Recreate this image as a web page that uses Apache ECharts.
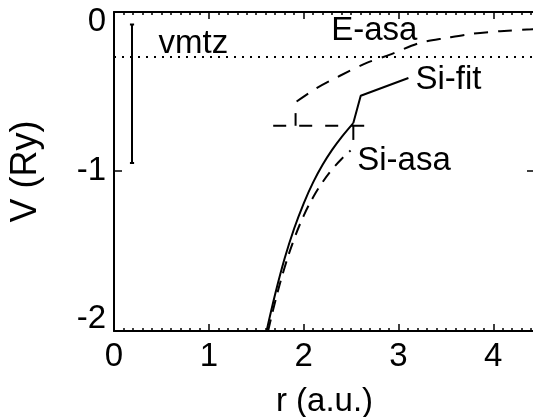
<!DOCTYPE html>
<html>
<head>
<meta charset="utf-8">
<script src="https://cdn.jsdelivr.net/npm/echarts@6/dist/echarts.min.js"></script>
<style>
  html, body { margin: 0; padding: 0; background: #fff; }
  #chart { width: 533px; height: 417px; }
</style>
</head>
<body>
<div id="chart"></div>
<script>
// axis ticks
var xTicks = [0, 1, 2, 3, 4];
var yTicks = [0, -1, -2];
var yTickMarks = [-1];

// Si-fit (solid)
var siFitR = [1.609, 1.70, 1.80, 1.90, 2.00, 2.10, 2.20, 2.30, 2.40, 2.524];
var siFitV = [-2.079, -1.830, -1.590, -1.390, -1.222, -1.080, -0.962, -0.862, -0.776, -0.682];
var siFitTailR = [2.524, 2.602, 3.105];
var siFitTailV = [-0.682, -0.498, -0.379];

// Si-asa (dashed)
var siAsaR = [1.625, 1.70, 1.80, 1.90, 2.00, 2.10, 2.20, 2.30, 2.40, 2.495];
var siAsaV = [-2.079, -1.880, -1.650, -1.460, -1.305, -1.180, -1.078, -0.993, -0.923, -0.866];

// E-asa (dashed)
var eAsaR = [1.926, 2.137, 2.383, 2.665, 2.911, 3.228, 3.51, 3.791, 4.073, 4.355, 4.44];
var eAsaV = [-0.537, -0.447, -0.364, -0.278, -0.222, -0.143, -0.110, -0.081, -0.065, -0.054, -0.052];

// horizontal dashed level with sphere radius marks
var levelR = [1.679, 2.672];
var levelV = -0.700;
var markE = [1.915, -0.700, -0.615];
var markSi = [2.524, -0.700, -0.795];

// vmtz
var vmtzV = -0.238;
var barR = 0.19, barTop = -0.02, barBottom = -0.95, capHalf = 0.022;

// annotations
var noteText = ['vmtz', 'E-asa', 'Si-fit', 'Si-asa'];
var noteR = [0.47, 2.29, 3.18, 2.565];
var noteV = [-0.150, -0.063, -0.392, -0.935];

function pairs(xs, ys) {
    var out = [];
    for (var i = 0; i < xs.length; i++) out.push([xs[i], ys[i]]);
    return out;
}

function seg(data, type, width) {
    return {
        type: 'line', data: data, symbol: 'none', silent: true,
        lineStyle: { color: '#000', width: width || 2, type: type || 'solid' },
        animation: false
    };
}

var series = [];
var s1 = seg(pairs(siFitR, siFitV), 'solid', 2);
s1.smooth = 0.4;
series.push(s1);
series.push(seg(pairs(siFitTailR, siFitTailV), 'solid', 2));
var s2 = seg(pairs(siAsaR, siAsaV), [12, 8], 2);
s2.smooth = 0.4;
series.push(s2);
var s3 = seg(pairs(eAsaR, eAsaV), [14, 10], 2);
s3.smooth = 0.3;
series.push(s3);
series.push(seg([[levelR[0], levelV], [levelR[1], levelV]], [13, 13], 2));
series.push(seg([[markE[0], markE[1]], [markE[0], markE[2]]], 'solid', 2));
series.push(seg([[markSi[0], markSi[1]], [markSi[0], markSi[2]]], 'solid', 2));
series.push(seg([[0, vmtzV], [4.44, vmtzV]], [2, 6], 2));
series.push(seg([[barR, barTop], [barR, barBottom]], 'solid', 2));
series.push(seg([[barR - capHalf, barTop], [barR + capHalf, barTop]], 'solid', 2));
series.push(seg([[barR - capHalf, barBottom], [barR + capHalf, barBottom]], 'solid', 2));

var tickCommon = { show: true, inside: true, length: 7, lineStyle: { color: '#000', width: 1.5 } };
var minorCommon = { show: true, splitNumber: 10, length: 3, lineStyle: { color: '#000', width: 1.5 } };
var lineCommon = { show: true, onZero: false, lineStyle: { color: '#000', width: 2 } };
var labelFont = { color: '#000', fontSize: 33, fontFamily: 'Liberation Sans' };

var myChart = echarts.init(document.getElementById('chart'), null, { renderer: 'canvas' });
var option = {
    backgroundColor: '#fff',
    animation: false,
    grid: { left: 114, right: -2, top: 12, bottom: 86, containLabel: false, outerBoundsMode: 'none' },
    xAxis: [{
        type: 'value', position: 'bottom', min: 0, max: 4.44, interval: 1,
        axisLine: lineCommon, axisTick: tickCommon, minorTick: minorCommon,
        splitLine: { show: false },
        axisLabel: Object.assign({ margin: 9, customValues: xTicks }, labelFont),
        name: 'r (a.u.)', nameLocation: 'middle', nameGap: 54,
        nameTextStyle: { color: '#000', fontSize: 33, fontFamily: 'Liberation Sans' }
    }, {
        type: 'value', position: 'top', min: 0, max: 4.44, interval: 1,
        axisLine: lineCommon, axisTick: tickCommon, minorTick: minorCommon,
        splitLine: { show: false }, axisLabel: { show: false }
    }],
    yAxis: [{
        type: 'value', position: 'left', min: -2.078, max: 0.064,
        axisLine: lineCommon,
        axisTick: Object.assign({ customValues: yTickMarks }, tickCommon, { length: 8 }),
        splitLine: { show: false },
        axisLabel: Object.assign({ margin: 8, customValues: yTicks }, labelFont),
        name: 'V (Ry)', nameLocation: 'middle', nameGap: 70,
        nameTextStyle: { color: '#000', fontSize: 36, fontFamily: 'Liberation Sans' }
    }, {
        type: 'value', position: 'right', min: -2.078, max: 0.064,
        axisLine: lineCommon,
        axisTick: Object.assign({ customValues: yTickMarks }, tickCommon, { length: 8 }),
        splitLine: { show: false }, axisLabel: { show: false }
    }],
    series: series
};
myChart.setOption(option);

// annotation texts placed through the chart's own scales
var texts = [];
for (var i = 0; i < noteText.length; i++) {
    var p = myChart.convertToPixel({ gridIndex: 0 }, [noteR[i], noteV[i]]);
    texts.push({
        type: 'text', x: p[0], y: p[1], silent: true,
        style: {
            text: noteText[i], fill: '#000', font: '33px "Liberation Sans"',
            textAlign: 'left', textVerticalAlign: 'middle'
        }
    });
}
myChart.setOption({ graphic: texts });
</script>
</body>
</html>
